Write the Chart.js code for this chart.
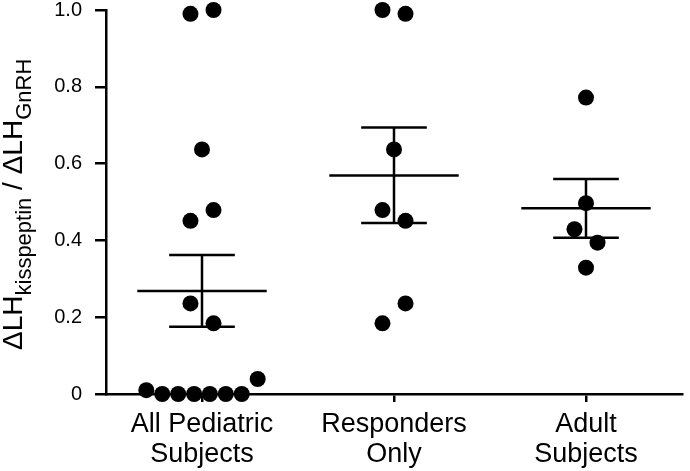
<!DOCTYPE html>
<html>
<head>
<meta charset="utf-8">
<script src="https://cdn.jsdelivr.net/npm/chart.js@4"></script>
<style>
  html, body { margin: 0; padding: 0; background: #fff; }
  #wrap { width: 690px; height: 471px; }
</style>
</head>
<body>
<div id="wrap"><canvas id="myChart" width="690" height="471"></canvas></div>
<script>
// --- DONNÉES ---
const categories = [['All Pediatric', 'Subjects'], ['Responders', 'Only'], ['Adult', 'Subjects']];
const yTicks = [0, 0.2, 0.4, 0.6, 0.8, 1.0];

const pediatricValues = [0.99, 1.0, 0.637, 0.451, 0.479, 0.236, 0.184, 0.010, 0, 0, 0, 0, 0, 0, 0.039];
const pediatricJitter = [-0.06, 0.06, 0, -0.06, 0.06, -0.06, 0.06, -0.29, -0.207, -0.124, -0.041, 0.041, 0.124, 0.207, 0.29];

const responderValues = [1.0, 0.99, 0.637, 0.479, 0.451, 0.236, 0.184];
const responderJitter = [-0.06, 0.06, 0, -0.06, 0.06, 0.06, -0.06];

const adultValues = [0.772, 0.497, 0.429, 0.394, 0.329];
const adultJitter = [0, 0, -0.06, 0.06, 0];

const means = [0.268, 0.569, 0.484];
const semUpper = [0.362, 0.694, 0.560];
const semLower = [0.175, 0.445, 0.407];

// --- STYLE ---
const MEAN_HALF = 0.337;
const CAP_HALF = 0.171;
const LINE_W = 2.5;
const FONT = '"Liberation Sans", Arial, sans-serif';

function points(values, jitter, g) {
    return values.map((v, k) => ({ x: g + jitter[k], y: v }));
}

const datasets = [{
    type: 'scatter',
    data: [].concat(
        points(pediatricValues, pediatricJitter, 0),
        points(responderValues, responderJitter, 1),
        points(adultValues, adultJitter, 2)
    ),
    backgroundColor: '#000',
    borderWidth: 0,
    pointRadius: 8,
    pointHoverRadius: 8,
    clip: false,
    order: 0
}];

// moyenne + erreur standard
function seg(a, b) {
    datasets.push({
        type: 'scatter',
        data: [a, b],
        showLine: true,
        borderColor: '#000',
        borderWidth: LINE_W,
        pointRadius: 0,
        clip: false,
        order: 1
    });
}
means.forEach((m, g) => {
    seg({ x: g - MEAN_HALF, y: m }, { x: g + MEAN_HALF, y: m });
    seg({ x: g, y: semLower[g] }, { x: g, y: semUpper[g] });
    seg({ x: g - CAP_HALF, y: semUpper[g] }, { x: g + CAP_HALF, y: semUpper[g] });
    seg({ x: g - CAP_HALF, y: semLower[g] }, { x: g + CAP_HALF, y: semLower[g] });
});

// --- TITRE AXE Y (avec indices) ---
const yTitle = {
    id: 'yTitle',
    afterDraw(chart) {
        const ctx = chart.ctx;
        const parts = [
            { t: '\u0394LH', sub: false },
            { t: 'kisspeptin', sub: true },
            { t: ' / \u0394LH', sub: false },
            { t: 'GnRH', sub: true }
        ];
        ctx.save();
        ctx.translate(22, 350);
        ctx.rotate(-Math.PI / 2);
        ctx.fillStyle = '#000';
        ctx.textBaseline = 'alphabetic';
        ctx.textAlign = 'left';
        let x = 0;
        parts.forEach(p => {
            ctx.font = (p.sub ? '22px ' : '28px ') + FONT;
            ctx.fillText(p.t, x, p.sub ? 9 : 0);
            x += ctx.measureText(p.t).width;
        });
        ctx.restore();
    }
};

const ctx = document.getElementById('myChart').getContext('2d');
new Chart(ctx, {
    data: { datasets: datasets },
    options: {
        responsive: false,
        animation: false,
        devicePixelRatio: 1,
        layout: { padding: { top: 0, right: 0, bottom: 0, left: 0 } },
        plugins: { legend: { display: false }, tooltip: { enabled: false } },
        scales: {
            x: {
                type: 'linear',
                min: -0.5,
                max: 2.5,
                afterBuildTicks: s => { s.ticks = categories.map((c, k) => ({ value: k })); },
                afterFit: s => { s.height = 77; s.paddingLeft = 0; s.paddingRight = 0; },
                ticks: {
                    callback: v => categories[v],
                    color: '#000',
                    font: { family: FONT, size: 27, lineHeight: 1.1 },
                    padding: 8,
                    maxRotation: 0
                },
                grid: { drawOnChartArea: false, color: '#000', lineWidth: LINE_W, tickLength: 8 },
                border: { color: '#000', width: LINE_W }
            },
            y: {
                min: 0,
                max: 1,
                afterBuildTicks: s => { s.ticks = yTicks.map(v => ({ value: v })); },
                afterFit: s => { s.width = 106; s.paddingTop = 10; s.paddingBottom = 0; },
                ticks: {
                    callback: v => v === 0 ? '0' : v.toFixed(1),
                    color: '#000',
                    font: { family: FONT, size: 20, lineHeight: 1.05 },
                    padding: 13
                },
                grid: { drawOnChartArea: false, color: '#000', lineWidth: LINE_W, tickLength: 11 },
                border: { color: '#000', width: LINE_W }
            }
        }
    },
    plugins: [yTitle]
});
</script>
</body>
</html>
